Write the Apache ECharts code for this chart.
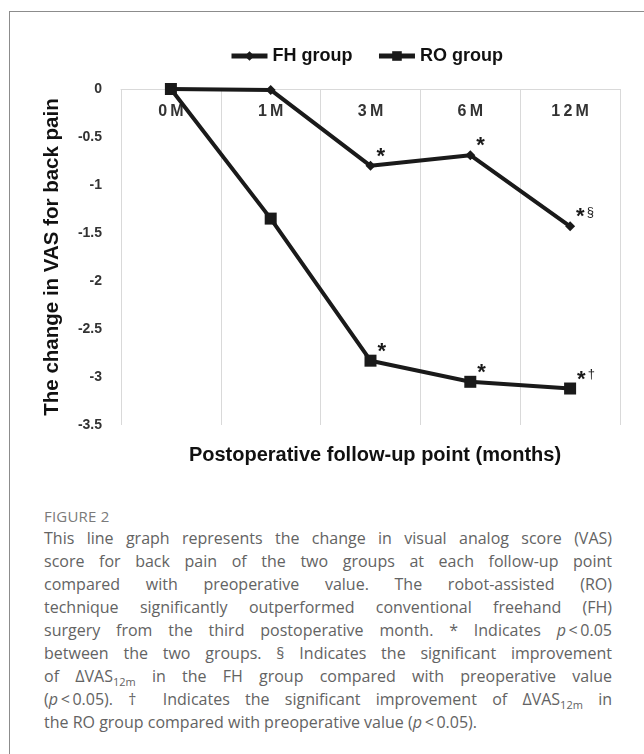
<!DOCTYPE html>
<html>
<head>
<meta charset="utf-8">
<script src="https://cdn.jsdelivr.net/npm/echarts@6/dist/echarts.min.js"></script>
<style>
  html, body { margin: 0; padding: 0; background: #fff; }
  #page { position: relative; width: 644px; height: 754px; overflow: hidden; }
  #frame { position: absolute; left: 9px; top: 11px; right: -2px; bottom: -2px;
           border-top: 1.5px solid #8c8c8c; border-left: 1.5px solid #8c8c8c; }
  #chart { position: absolute; left: 0; top: 0; width: 644px; height: 480px; }
  #caption { position: absolute; left: 44px; top: 505px; width: 568px;
             font-family: "Open Sans", "Noto Sans", sans-serif; color: #636363; }
  #caption .fig { font-size: 15px; color: #7a7a7a; letter-spacing: 0.2px; line-height: 22px; }
  #caption .ln { font-size: 16px; line-height: 23px; white-space: nowrap;
                 text-align: justify; text-align-last: justify; }
  #caption .ln.last { text-align-last: left; }
  #caption sub { font-size: 11px; line-height: 0; }
</style>
</head>
<body>
<div id="page">
  <div id="frame"></div>
  <div id="chart"></div>
  <div id="caption">
    <div class="fig">FIGURE 2</div>
    <div class="ln">This line graph represents the change in visual analog score (VAS)</div>
    <div class="ln">score for back pain of the two groups at each follow-up point</div>
    <div class="ln">compared with preoperative value. The robot-assisted (RO)</div>
    <div class="ln">technique significantly outperformed conventional freehand (FH)</div>
    <div class="ln">surgery from the third postoperative month. * Indicates <i>p</i>&#8201;&lt;&#8201;0.05</div>
    <div class="ln">between the two groups. § Indicates the significant improvement</div>
    <div class="ln">of ΔVAS<sub>12m</sub> in the FH group compared with preoperative value</div>
    <div class="ln">(<i>p</i>&#8201;&lt;&#8201;0.05). † Indicates the significant improvement of ΔVAS<sub>12m</sub> in</div>
    <div class="ln last">the RO group compared with preoperative value (<i>p</i>&#8201;&lt;&#8201;0.05).</div>
  </div>
</div>
<script>
// Follow-up points and mean change in back-pain VAS from baseline
var followUp = ['0M', '1M', '3M', '6M', '12M'];
var fhChange = [0, -0.01, -0.80, -0.69, -1.43];
var roChange = [0, -1.35, -2.83, -3.05, -3.12];
// Significance marks drawn beside each point
var fhMarks = ['', '', '*', '*', '*§'];
var roMarks = ['', '', '*', '*', '*†'];
var yTicks = { min: -3.5, max: 0, step: 0.5 };

var ink = '#1a1a1a';
var font = 'Arial, "Liberation Sans", sans-serif';

function withMarks(values, marks) {
  return values.map(function (v, i) {
    return { value: v, mark: marks[i] };
  });
}

var markLabel = {
  show: true,
  position: 'right',
  distance: 1,
  offset: [0, -13],
  formatter: function (p) {
    var m = p.data.mark || '';
    if (!m) return '';
    var out = '{star|' + m.charAt(0) + '}';
    if (m.length > 1) out += '{sup|' + m.slice(1) + '}';
    return out;
  },
  rich: {
    star: { fontFamily: font, fontSize: 22, fontWeight: 'bold', color: ink, padding: [8, 0, 0, 0] },
    sup: { fontFamily: font, fontSize: 13, color: ink, padding: [0, 0, 2, 2] }
  }
};

var chart = echarts.init(document.getElementById('chart'), null, { renderer: 'canvas' });
chart.setOption({
  animation: false,
  textStyle: { fontFamily: font },
  title: {
    text: 'Postoperative follow-up point (months)',
    left: 370, top: 440, textAlign: 'center',
    textStyle: { fontFamily: font, fontSize: 20, fontWeight: 'bold', color: '#111' }
  },
  legend: {
    top: 42, left: 224,
    itemWidth: 36, itemHeight: 12, itemGap: 24,
    lineStyle: { width: 5 },
    textStyle: { fontFamily: font, fontSize: 18, fontWeight: 'bold', color: '#111' },
    data: ['FH group', 'RO group']
  },
  grid: { left: 121, top: 89, width: 499, height: 336, containLabel: false },
  xAxis: {
    type: 'category',
    position: 'top',
    data: followUp,
    boundaryGap: true,
    axisLine: { show: true, lineStyle: { color: '#d9d9d9', width: 1 } },
    axisTick: { show: false },
    axisLabel: {
      inside: true, margin: 15, fontFamily: font, fontSize: 16, fontWeight: 'bold', color: '#333',
      formatter: function (v) { return v.split('').join('\u2009'); }
    },
    splitLine: { show: true, lineStyle: { color: '#d9d9d9', width: 1 } }
  },
  yAxis: {
    type: 'value',
    min: yTicks.min, max: yTicks.max, interval: yTicks.step,
    name: 'The change in VAS for back pain',
    nameLocation: 'middle', nameRotate: 90, nameGap: 58,
    nameTextStyle: { fontFamily: font, fontSize: 20.5, fontWeight: 'bold', color: '#111' },
    axisLine: { show: false },
    axisTick: { show: false },
    splitLine: { show: false },
    axisLabel: { margin: 19, fontFamily: font, fontSize: 14, fontWeight: 'bold', color: '#333' }
  },
  series: [
    {
      name: 'FH group', type: 'line',
      data: withMarks(fhChange, fhMarks),
      symbol: 'diamond', symbolSize: 10,
      itemStyle: { color: ink },
      lineStyle: { color: ink, width: 4 },
      label: markLabel,
      z: 3
    },
    {
      name: 'RO group', type: 'line',
      data: withMarks(roChange, roMarks),
      symbol: 'rect', symbolSize: 12,
      itemStyle: { color: ink },
      lineStyle: { color: ink, width: 4 },
      label: markLabel,
      z: 2
    }
  ]
});
</script>
</body>
</html>
